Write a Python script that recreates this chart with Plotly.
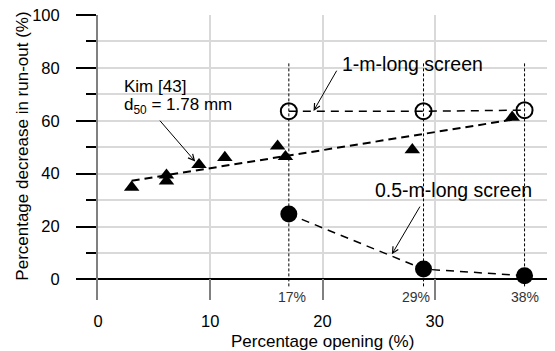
import plotly.graph_objects as go

# ---- data ----
kim_x = [3.0, 6.1, 6.1, 9.0, 11.3, 16.0, 16.7, 28.0, 36.9]
kim_y = [34.8, 39.4, 37.2, 43.4, 46.1, 50.4, 46.4, 49.0, 61.3]

trend_x = [3.0, 36.9]
trend_y = [37.3, 60.4]

screen_opening = [17, 29, 38]
one_m_y = [63.6, 63.6, 64.0]
half_m_y = [24.7, 3.9, 1.4]
opening_labels = ["17%", "29%", "38%"]

vline_top = 81.7
vline_bottom = -3.3

x_ticks = [0, 10, 20, 30, 40]
y_ticks = [0, 20, 40, 60, 80, 100]

FONT = "Liberation Sans, Arial, sans-serif"

fig = go.Figure()

# vertical dotted reference lines
vx, vy = [], []
for xo in screen_opening:
    vx += [xo, xo, None]
    vy += [vline_top, vline_bottom, None]
fig.add_trace(go.Scatter(x=vx, y=vy, mode="lines",
                         line=dict(color="black", width=1, dash="3px,2px"),
                         hoverinfo="skip", showlegend=False))

# trend line for Kim data
fig.add_trace(go.Scatter(x=trend_x, y=trend_y, mode="lines",
                         line=dict(color="black", width=2, dash="8px,5px"),
                         showlegend=False))

# Kim triangles
fig.add_trace(go.Scatter(x=kim_x, y=kim_y, mode="markers",
                         marker=dict(symbol="triangle-up", size=13.5, color="black"),
                         showlegend=False))

# 1-m-long screen
fig.add_trace(go.Scatter(x=screen_opening, y=one_m_y, mode="lines+markers",
                         line=dict(color="black", width=1.5, dash="8px,6px"),
                         marker=dict(symbol="circle-open", size=16,
                                     line=dict(color="black", width=2)),
                         showlegend=False))

# 0.5-m-long screen
fig.add_trace(go.Scatter(x=screen_opening, y=half_m_y, mode="lines+markers",
                         line=dict(color="black", width=1.5, dash="8px,6px"),
                         marker=dict(symbol="circle", size=17, color="black"),
                         showlegend=False))

annotations = []
# opening labels
shifts = [3, -8, 0]
for xo, lab, sh in zip(screen_opening, opening_labels, shifts):
    annotations.append(dict(x=xo, y=-6.7, xref="x", yref="y", text=lab,
                            showarrow=False, xshift=sh,
                            font=dict(family=FONT, size=14, color="#333333")))

# text labels
annotations += [
    dict(x=2.1, y=73.1, xref="x", yref="y", text="Kim [43]", showarrow=False,
         xanchor="left", yanchor="middle", font=dict(family=FONT, size=17, color="black")),
    dict(x=2.1, y=65.6, xref="x", yref="y", text="d<sub>50</sub> = 1.78 mm", showarrow=False,
         xanchor="left", yanchor="middle", font=dict(family=FONT, size=17, color="black")),
    dict(x=21.6, y=81.3, xref="x", yref="y", text="1-m-long screen", showarrow=False,
         xanchor="left", yanchor="middle", font=dict(family=FONT, size=19.5, color="black")),
    dict(x=24.5, y=33.8, xref="x", yref="y", text="0.5-m-long screen", showarrow=False,
         xanchor="left", yanchor="middle", font=dict(family=FONT, size=19.5, color="black")),
]

# arrows
arrows = [((5.4, 60.6), (8.66, 44.6)),
          ((21.34, 79.5), (19.2, 63.7)),
          ((28.76, 28.1), (26.18, 9.5))]
for (tx, ty), (hx, hy) in arrows:
    annotations.append(dict(x=hx, y=hy, ax=tx, ay=ty, xref="x", yref="y",
                            axref="x", ayref="y", text="", showarrow=True,
                            arrowhead=5, arrowsize=1.2, arrowwidth=1, arrowcolor="black"))

# axis titles
annotations += [
    dict(x=-0.168, y=0.54, xref="paper", yref="paper", text="Percentage decrease in run-out (%)",
         textangle=-90, showarrow=False, xanchor="center", yanchor="middle",
         font=dict(family=FONT, size=17, color="black")),
    dict(x=0.499, y=-0.144, xref="paper", yref="paper", text="Percentage opening (%)",
         showarrow=False, xanchor="center", yanchor="middle",
         font=dict(family=FONT, size=17, color="black")),
]

fig.update_layout(
    width=555, height=351,
    margin=dict(l=98, r=8, t=15, b=51, autoexpand=False),
    paper_bgcolor="white", plot_bgcolor="white",
    font=dict(family=FONT, color="black"),
    annotations=annotations,
    xaxis=dict(range=[0, 40], tickvals=x_ticks, ticks="inside", ticklen=21, tickwidth=2,
               tickcolor="#808080", showgrid=True, gridcolor="#d9d9d9", gridwidth=2,
               showline=False, zeroline=False, tickfont=dict(size=16.5, color="black"),
               ticklabelstandoff=9, automargin=False),
    yaxis=dict(range=[-7.8, 100], tickvals=y_ticks, ticks="outside", ticklen=20, tickwidth=1.5,
               tickcolor="black", showline=True, linecolor="#808080", linewidth=2,
               showgrid=True, gridcolor="#d9d9d9", gridwidth=1.5,
               zeroline=True, zerolinecolor="black", zerolinewidth=1.5,
               tickfont=dict(size=16.5, color="black"), automargin=False,
               ticklabelstandoff=13,
               minor=dict(dtick=10, tick0=0, ticks="outside", ticklen=10, tickwidth=1.5,
                          tickcolor="black", showgrid=True, gridcolor="#d9d9d9", gridwidth=1.5)),
)

fig.write_html("out.html", config={"displayModeBar": False},
               post_script="document.body.style.margin='0';document.body.style.padding='0';")
